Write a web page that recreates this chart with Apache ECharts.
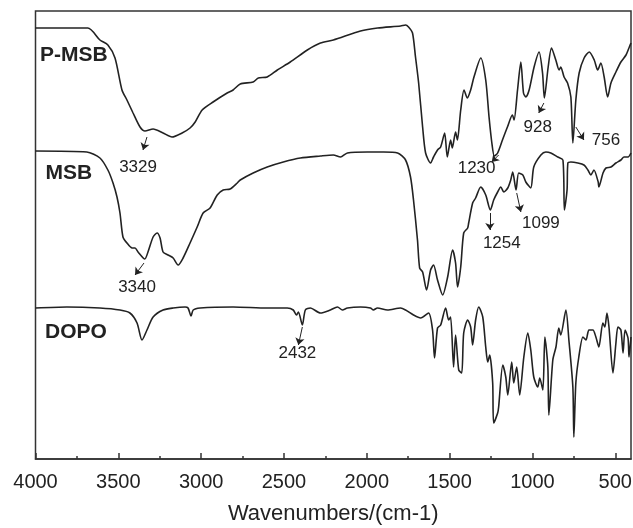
<!DOCTYPE html>
<html lang="en">
<head>
    <meta charset="UTF-8">
    <title>FTIR</title>
    <script src="https://cdn.jsdelivr.net/npm/echarts@6/dist/echarts.min.js"></script>
    <style>
        html, body { margin: 0; padding: 0; background: #fff; }
    </style>
</head>
<body>
<div id="main" style="width: 633px;height:528px;"></div>
<script type="text/javascript">
    // wavenumber (cm-1), transmittance (a.u., curves stacked with offsets)
    var pmsbData = [
        [4000, 431], [3684, 431], [3611, 419], [3563, 414], [3520, 401], [3478, 369], [3448, 359],
        [3411, 346], [3369, 332], [3339, 328], [3290, 330], [3230, 326], [3176, 322], [3115, 326],
        [3067, 331], [3036, 337], [2994, 349], [2928, 357], [2843, 366], [2807, 369], [2764, 375],
        [2686, 377], [2655, 381], [2601, 382], [2540, 389], [2462, 397], [2359, 409], [2280, 416],
        [2202, 419], [2038, 428], [1935, 431], [1796, 433], [1766, 434], [1748, 432], [1724, 426],
        [1706, 402], [1687, 376], [1663, 332], [1645, 306], [1615, 296], [1597, 302], [1573, 309],
        [1554, 312], [1530, 326], [1514, 302], [1494, 319], [1484, 311], [1464, 327], [1453, 319],
        [1433, 349], [1413, 369], [1393, 361], [1373, 369], [1353, 382], [1312, 401], [1282, 379],
        [1262, 342], [1245, 316], [1230, 303], [1210, 306], [1181, 319], [1151, 332], [1121, 344],
        [1111, 339], [1090, 369], [1070, 397], [1054, 366], [1040, 362], [1020, 369], [990, 392],
        [960, 407], [939, 386], [928, 361], [905, 392], [885, 411], [859, 399], [839, 389],
        [829, 392], [809, 382], [788, 376], [768, 362], [756, 316], [738, 359], [718, 386],
        [688, 401], [657, 407], [627, 399], [606, 389], [587, 396], [567, 382], [546, 362],
        [526, 376], [496, 387], [466, 397], [435, 404], [415, 412], [405, 416]
    ];
    var msbData = [
        [4000, 308], [3690, 307], [3611, 301], [3563, 289], [3532, 276], [3508, 262], [3490, 246],
        [3472, 222], [3448, 216], [3417, 211], [3399, 211], [3381, 207], [3340, 200], [3321, 207],
        [3290, 222], [3266, 226], [3248, 221], [3230, 207], [3200, 204], [3169, 201], [3139, 194],
        [3109, 201], [3067, 216], [3024, 232], [2988, 246], [2946, 251], [2903, 264], [2867, 269],
        [2825, 270], [2782, 276], [2764, 279], [2686, 286], [2601, 292], [2504, 297], [2401, 301],
        [2280, 303], [2202, 304], [2159, 302], [2117, 306], [1996, 307], [1899, 307], [1814, 306],
        [1766, 299], [1736, 282], [1718, 259], [1694, 219], [1681, 191], [1663, 187], [1639, 169],
        [1615, 189], [1597, 194], [1573, 179], [1542, 164], [1512, 182], [1482, 209], [1464, 196],
        [1452, 172], [1433, 192], [1415, 226], [1391, 231], [1385, 236], [1361, 256], [1343, 261],
        [1312, 272], [1282, 264], [1254, 249], [1234, 259], [1210, 267], [1191, 272], [1173, 267],
        [1149, 271], [1131, 279], [1119, 287], [1099, 269], [1083, 286], [1058, 284], [1040, 277],
        [1010, 271], [992, 292], [949, 304], [919, 307], [889, 306], [847, 302], [816, 299],
        [807, 249], [791, 269], [786, 296], [768, 297], [726, 296], [689, 294], [665, 289],
        [647, 284], [629, 289], [603, 277], [599, 272], [574, 286], [556, 291], [526, 292],
        [496, 296], [466, 299], [447, 302], [423, 302], [405, 306]
    ];
    var dopoData = [
        [4000, 151], [3811, 152], [3611, 151], [3490, 149], [3430, 146], [3387, 136], [3357, 119],
        [3327, 129], [3290, 142], [3230, 149], [3169, 151], [3097, 152], [3079, 151], [3061, 143],
        [3048, 149], [3006, 151], [2807, 152], [2601, 151], [2480, 151], [2444, 149], [2425, 144],
        [2413, 147], [2389, 134], [2371, 149], [2341, 151], [2280, 146], [2220, 149], [2177, 152],
        [2147, 149], [2117, 151], [2038, 152], [1978, 151], [1960, 149], [1936, 151], [1875, 149],
        [1796, 151], [1766, 149], [1718, 144], [1675, 141], [1627, 146], [1603, 129], [1591, 101],
        [1573, 131], [1554, 134], [1524, 151], [1506, 139], [1494, 142], [1476, 92], [1464, 124],
        [1445, 89], [1427, 86], [1415, 126], [1391, 139], [1373, 132], [1361, 114], [1343, 139],
        [1324, 152], [1300, 142], [1282, 112], [1270, 97], [1258, 104], [1240, 76], [1234, 36],
        [1210, 46], [1204, 52], [1179, 94], [1161, 82], [1149, 64], [1125, 97], [1113, 76],
        [1095, 92], [1077, 64], [1052, 102], [1028, 126], [1010, 109], [992, 82], [968, 72],
        [956, 81], [937, 69], [925, 122], [907, 92], [901, 44], [877, 99], [858, 112], [841, 131],
        [829, 124], [798, 149], [780, 119], [756, 72], [750, 22], [738, 76], [720, 102], [695, 122],
        [677, 119], [659, 129], [635, 129], [617, 122], [599, 112], [575, 136], [563, 132],
        [550, 146], [538, 132], [514, 86], [496, 116], [484, 132], [466, 129], [453, 106],
        [441, 129], [423, 121], [417, 102], [405, 122]
    ];

    var majorTicks = [500, 1000, 1500, 2000, 2500, 3000, 3500, 4000];
    var minorTicks = [750, 1250, 1750, 2250, 2750, 3250, 3750];

    // sample names: [text, wavenumber, value]
    var sampleNames = [
        ['P-MSB', 3768, 404],
        ['MSB', 3799, 286],
        ['DOPO', 3756, 127]
    ];
    // peak labels: [text, wavenumber, value]
    var peakLabels = [
        ['3329', 3381, 292],
        ['3340', 3387, 172],
        ['2432', 2419, 106],
        ['1230', 1337, 291],
        ['928', 968, 332],
        ['756', 556, 319],
        ['1254', 1185, 216],
        ['1099', 949, 236]
    ];
    // arrows: from [w, v] to [w, v]
    var peakArrows = [
        [[3327, 322], [3351, 309]],
        [[3345, 196], [3399, 184]],
        [[2389, 132], [2413, 114]],
        [[1204, 304], [1246, 297]],
        [[931, 356], [962, 346]],
        [[738, 332], [689, 319]],
        [[1257, 246], [1257, 229]],
        [[1095, 266], [1070, 247]]
    ];

    var lineColor = '#222';
    var fontFamily = 'Liberation Sans, Arial, sans-serif';

    var chart = echarts.init(document.getElementById('main'));

    function spectrum(name, data) {
        return {
            name: name,
            type: 'line',
            data: data,
            showSymbol: false,
            smooth: 0.25,
            lineStyle: { color: lineColor, width: 1.6 },
            silent: true,
            z: 3
        };
    }

    function textLayer(rows, size, weight) {
        return {
            type: 'scatter',
            data: rows.map(function (d) { return [d[1], d[2], d[0]]; }),
            symbolSize: 0,
            silent: true,
            itemStyle: { opacity: 1, color: '#222' },
            label: {
                show: true,
                position: 'inside',
                formatter: function (p) { return p.data[2]; },
                fontSize: size,
                fontWeight: weight,
                color: '#222',
                opacity: 1,
                fontFamily: fontFamily
            },
            z: 5
        };
    }

    var option = {
        animation: false,
        grid: {
            left: 35.5,
            right: 2,
            top: 11,
            bottom: 69,
            outerBoundsMode: 'none',
            show: true,
            borderColor: '#333',
            borderWidth: 1.5
        },
        xAxis: [{
            type: 'value',
            inverse: true,
            min: 405,
            max: 4000,
            name: 'Wavenumbers/(cm-1)',
            nameLocation: 'middle',
            nameGap: 44,
            nameTextStyle: { fontSize: 22, color: '#222', fontFamily: fontFamily },
            axisLine: { show: true, lineStyle: { color: '#333', width: 1.5 } },
            axisTick: { show: true, inside: true, length: 6, customValues: majorTicks,
                lineStyle: { color: '#333', width: 1.5 } },
            axisLabel: { fontSize: 20, color: '#222', margin: 13, fontFamily: fontFamily,
                customValues: majorTicks, hideOverlap: false,
                formatter: function (v) { return String(v); } },
            splitLine: { show: false }
        }, {
            type: 'value',
            inverse: true,
            min: 405,
            max: 4000,
            position: 'bottom',
            axisLine: { show: false },
            axisTick: { show: true, inside: true, length: 3, customValues: minorTicks,
                lineStyle: { color: '#333', width: 1.5 } },
            axisLabel: { show: false },
            splitLine: { show: false }
        }],
        yAxis: {
            type: 'value',
            min: 0,
            max: 448,
            axisLine: { show: false },
            axisTick: { show: false },
            axisLabel: { show: false },
            splitLine: { show: false }
        },
        series: [
            spectrum('P-MSB', pmsbData),
            spectrum('MSB', msbData),
            spectrum('DOPO', dopoData),
            textLayer(sampleNames, 21, 'bold'),
            textLayer(peakLabels, 17, 'normal'),
            {
                type: 'lines',
                coordinateSystem: 'cartesian2d',
                silent: true,
                symbol: ['none', 'arrow'],
                symbolSize: 7,
                lineStyle: { color: lineColor, width: 1, opacity: 1 },
                data: peakArrows.map(function (a) { return { coords: a }; }),
                z: 4
            }
        ]
    };

    chart.setOption(option);
</script>
</body>
</html>
